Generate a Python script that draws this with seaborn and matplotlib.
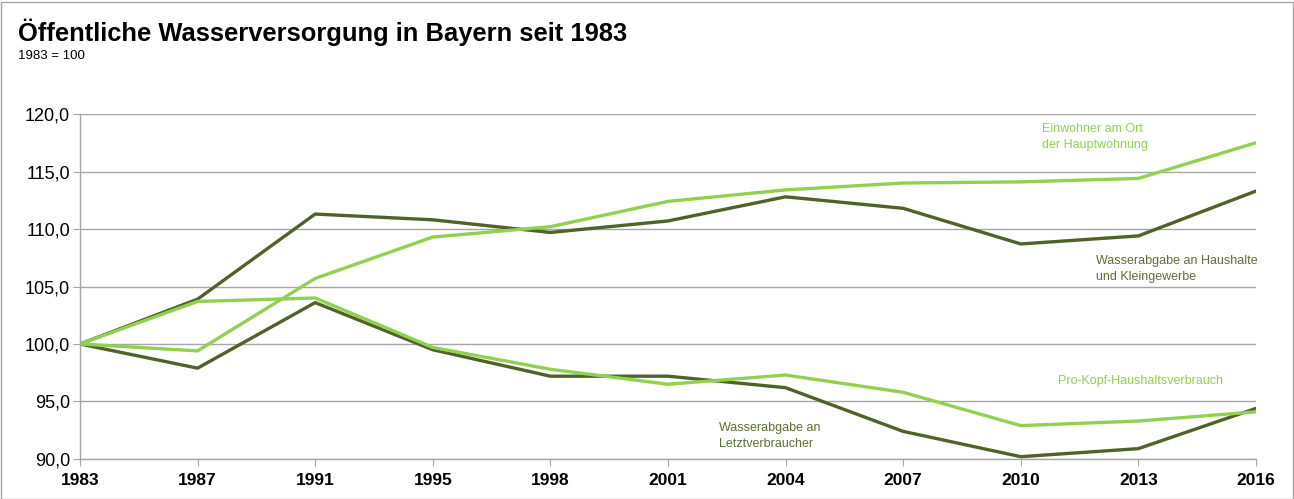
import pandas as pd
import matplotlib.pyplot as plt
import seaborn as sns

# Index values, 1983 = 100
years = ["1983", "1987", "1991", "1995", "1998", "2001", "2004", "2007", "2010", "2013", "2016"]
einwohner = [100.0, 99.4, 105.7, 109.3, 110.2, 112.4, 113.4, 114.0, 114.1, 114.4, 117.5]
haushalte = [100.0, 103.9, 111.3, 110.8, 109.7, 110.7, 112.8, 111.8, 108.7, 109.4, 113.3]
pro_kopf = [100.0, 103.7, 104.0, 99.7, 97.8, 96.5, 97.3, 95.8, 92.9, 93.3, 94.1]
letztverbraucher = [100.0, 97.9, 103.6, 99.5, 97.2, 97.2, 96.2, 92.4, 90.2, 90.9, 94.4]

dark = "#4F6228"
light = "#92D050"

series = {
    "Wasserabgabe an Haushalte und Kleingewerbe": (haushalte, dark),
    "Wasserabgabe an Letztverbraucher": (letztverbraucher, dark),
    "Einwohner am Ort der Hauptwohnung": (einwohner, light),
    "Pro-Kopf-Haushaltsverbrauch": (pro_kopf, light),
}

sns.set_style("white")
plt.rcParams["font.family"] = ["Liberation Sans", "DejaVu Sans"]
plt.rcParams["text.color"] = "black"

fig = plt.figure(figsize=(12.94, 4.99), dpi=100)
ax = fig.add_axes([0.0618, 0.0802, 0.9088, 0.6913])

for name, (vals, col) in series.items():
    df = pd.DataFrame({"Jahr": years, "Wert": vals})
    sns.lineplot(data=df, x="Jahr", y="Wert", color=col, linewidth=2.4, ax=ax, sort=False)

ax.set_xlim(0, len(years) - 1)
ax.set_ylim(90, 120)
ax.set_yticks([90, 95, 100, 105, 110, 115, 120])
ax.set_yticklabels([f"{v:.1f}".replace(".", ",") for v in ax.get_yticks()], fontsize=13)
ax.set_xticks(range(len(years)))
ax.set_xticklabels(years, fontsize=12.5, fontweight="bold")
ax.set_xlabel("")
ax.set_ylabel("")
ax.yaxis.grid(True, color="#A6A6A6", linewidth=1)
ax.set_axisbelow(True)
for s in ["top", "right"]:
    ax.spines[s].set_visible(False)
for s in ["left", "bottom"]:
    ax.spines[s].set_color("#A6A6A6")
    ax.spines[s].set_linewidth(1)
ax.tick_params(axis="both", which="both", length=5, color="#A6A6A6", direction="out",
               bottom=True, left=True, pad=2, labelcolor="black")
ax.tick_params(axis="x", pad=5)

# Labels next to the lines
ax.text(8.18, 119.2, "Einwohner am Ort\nder Hauptwohnung", color=light, fontsize=9,
        va="top", ha="left", linespacing=1.4)
ax.text(8.64, 107.7, "Wasserabgabe an Haushalte\nund Kleingewerbe", color="#5B7134", fontsize=9,
        va="top", ha="left", linespacing=1.4)
ax.text(8.32, 97.3, "Pro-Kopf-Haushaltsverbrauch", color=light, fontsize=9,
        va="top", ha="left")
ax.text(5.43, 93.2, "Wasserabgabe an\nLetztverbraucher", color="#5B7134", fontsize=9,
        va="top", ha="left", linespacing=1.4)

fig.text(0.014, 0.962, "Öffentliche Wasserversorgung in Bayern seit 1983", fontsize=18.4,
         fontweight="bold", va="top", ha="left")
fig.text(0.014, 0.9, "1983 = 100", fontsize=9.5, va="top", ha="left")

# outer frame
fig.patches.append(plt.Rectangle((0.001, 0.001), 0.998, 0.995, transform=fig.transFigure,
                                 fill=False, edgecolor="#A6A6A6", linewidth=1))

fig.savefig("out.png", dpi=100)
